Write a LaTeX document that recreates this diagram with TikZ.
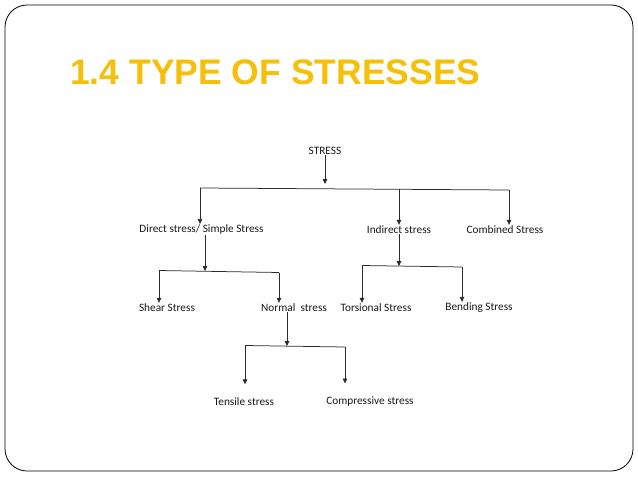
\documentclass[tikz,border=0pt]{standalone}
\usepackage{fontspec}
\setmainfont{Carlito}
\newfontfamily\titlefont{Liberation Sans}
\usetikzlibrary{arrows.meta}
\definecolor{titleyellow}{HTML}{F5BF0A}
\definecolor{linegray}{HTML}{2A2A2A}
\tikzset{
  lbl/.style={inner sep=0.5pt, font=\fontsize{11.3}{13}\selectfont, text=black!90},
  link/.style={draw=linegray, line width=0.75pt},
  arr/.style={link, -{Triangle[length=5pt,width=4.5pt]}}
}
\begin{document}
\begin{tikzpicture}[x=1pt,y=-1pt]
\useasboundingbox (0,0) rectangle (638,479);
\fill[white] (0,0) rectangle (638,479);
\draw[line width=0.8pt, rounded corners=22pt] (5,5) rectangle (633,471);
\node[anchor=base west, inner sep=0pt, text=titleyellow, font=\titlefont\bfseries\fontsize{35.5}{40}\selectfont] (title) at (70,84) {1.4 TYPE OF STRESSES};

% nodes
\node[lbl] (stress) at (325,151) {STRESS};
\node[lbl] (direct) at (201.5,229.5) {Direct stress/ Simple Stress};
\node[lbl] (indirect) at (399,229.5) {Indirect stress};
\node[lbl] (combined) at (505,229.5) {Combined Stress};
\node[lbl] (shear) at (167,307.5) {Shear Stress};
\node[lbl] (normal) at (294,307.5) {Normal\ \ stress};
\node[lbl] (torsional) at (376,307.5) {Torsional Stress};
\node[lbl] (bending) at (479,307.5) {Bending Stress};
\node[lbl] (tensile) at (244,402) {Tensile stress};
\node[lbl] (compressive) at (370,402) {Compressive stress};

% junction coordinates
\coordinate (j1) at (325,184);
\coordinate (b1l) at (200,188);
\coordinate (b1m) at (399,189);
\coordinate (b1r) at (509,190);
\coordinate (d0) at (205,236);
\coordinate (j2) at (205,271);
\coordinate (b2l) at (159,270.5);
\coordinate (b2r) at (279,272.5);
\coordinate (i0) at (399,236);
\coordinate (j3) at (399,266);
\coordinate (b3l) at (362,265.5);
\coordinate (b3r) at (462,267);
\coordinate (n0) at (287,313);
\coordinate (j4) at (287,346);
\coordinate (b4l) at (245,345.5);
\coordinate (b4r) at (345,347);

% level 1
\draw[arr] (stress) -- (j1);
\draw[link] (b1l) -- (b1r);
\draw[arr] (b1l) -- (b1l |- direct.north);
\draw[arr] (b1m) -- (b1m |- indirect.north);
\draw[arr] (b1r) -- (b1r |- combined.north);

% direct
\draw[arr] (d0 |- direct.south) -- (j2);
\draw[link] (b2l) -- (b2r);
\draw[arr] (b2l) -- (b2l |- shear.north);
\draw[arr] (b2r) -- (b2r |- normal.north);

% indirect
\draw[arr] (i0 |- indirect.south) -- (j3);
\draw[link] (b3l) -- (b3r);
\draw[arr] (b3l) -- (b3l |- torsional.north);
\draw[arr] (b3r) -- (b3r |- bending.north);

% normal
\draw[arr] (n0 |- normal.south) -- (j4);
\draw[link] (b4l) -- (b4r);
\draw[arr] (b4l) -- ([yshift=13pt]b4l |- tensile.north);
\draw[arr] (b4r) -- ([yshift=13pt]b4r |- compressive.north);
\end{tikzpicture}
\end{document}
